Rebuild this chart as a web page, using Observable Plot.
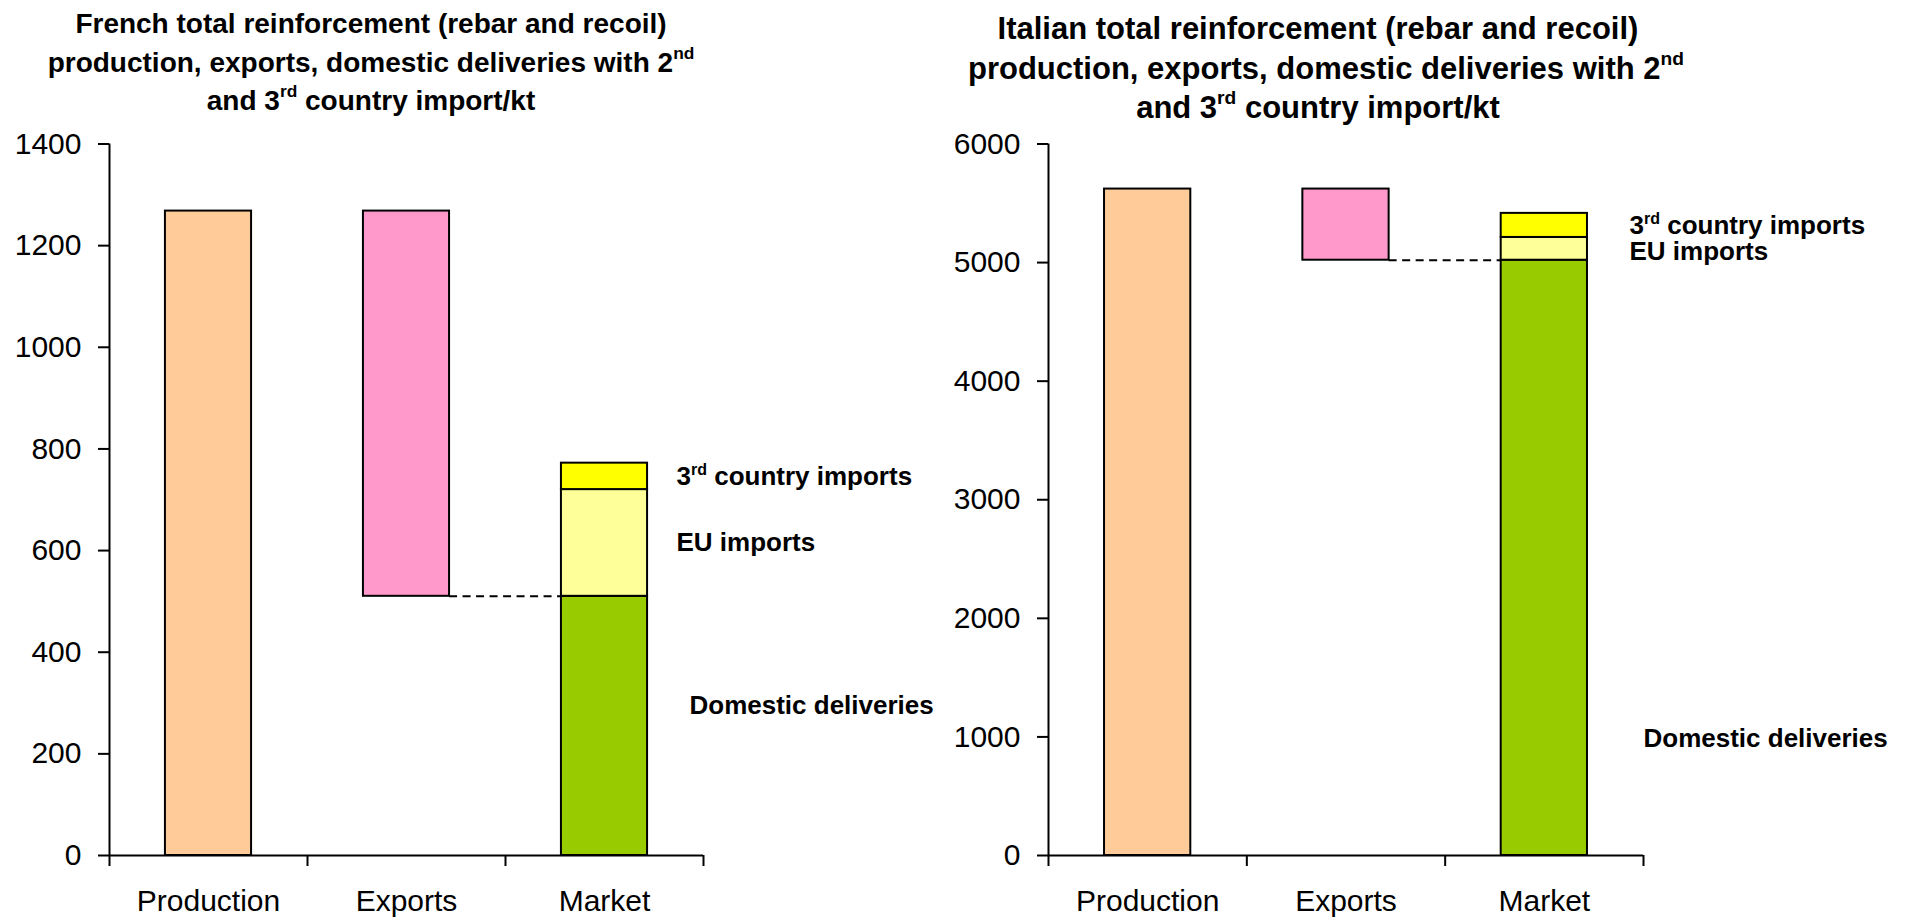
<!DOCTYPE html>
<html><head><meta charset="utf-8">
<script src="https://cdn.jsdelivr.net/npm/d3@7"></script>
<script src="https://cdn.jsdelivr.net/npm/@observablehq/plot@0.6"></script>
<style>
body{margin:0;background:#fff;width:1906px;height:918px;overflow:hidden;position:relative;font-family:"Liberation Sans",Arial,sans-serif;}
.title{position:absolute;z-index:2;text-align:center;font-weight:bold;font-size:28px;line-height:38.5px;color:#000;white-space:nowrap;}
.title sup{font-size:0.62em;line-height:0;vertical-align:0.75em;}
.chart{position:absolute;z-index:1;top:120px;width:953px;height:798px;}
</style></head><body>
<div class="title" style="left:21px;top:5px;width:700px">French total reinforcement (rebar and recoil)<br>production, exports, domestic deliveries with 2<sup>nd</sup><br>and 3<sup>rd</sup> country import/kt</div>
<div class="title" style="left:968px;top:9px;width:700px;font-size:31px;line-height:39.5px">Italian total reinforcement (rebar and recoil)<br>production, exports, domestic deliveries with 2<sup>nd</sup><br>and 3<sup>rd</sup> country import/kt</div>
<div class="chart" id="c1" style="left:0px"></div>
<div class="chart" id="c2" style="left:953px"></div>
<script>
// Categories on the x axis
const categories = ["Production", "Exports", "Market"];
// Segment values: production, exports, domestic deliveries, EU imports, 3rd country imports (kt)
const frenchValues = [1268, 758, 510, 210, 52];
const italianValues = [5620, 600, 5020, 192, 203];
const segmentColors = ["#FFCC99", "#FF99CC", "#99CC00", "#FFFF99", "#FFFF00"];
// Annotation labels and their value anchors
const labelTexts = ["3rd country imports", "EU imports", "Domestic deliveries"];
const frenchLabelY = [746, 616, 295];
const italianLabelY = [5313, 5090, 987];
// Y ticks
const frenchTicks = [0, 200, 400, 600, 800, 1000, 1200, 1400];
const italianTicks = [0, 1000, 2000, 3000, 4000, 5000, 6000];

const F = "Liberation Sans, Arial, sans-serif";
const barFrac = 0.435;

function makeChart(values, ticks, labelY, marginLeft, marginRight) {
  const [prod, exp, dom, eu, third] = values;
  const rows = [
    {cat: 0, y1: 0, y2: prod, fill: segmentColors[0]},
    {cat: 1, y1: prod - exp, y2: prod, fill: segmentColors[1]},
    {cat: 2, y1: 0, y2: dom, fill: segmentColors[2]},
    {cat: 2, y1: dom, y2: dom + eu, fill: segmentColors[3]},
    {cat: 2, y1: dom + eu, y2: dom + eu + third, fill: segmentColors[4]}
  ];
  const labels = labelTexts.map((t, i) => ({text: t, y: labelY[i]}));
  const yMax = ticks[ticks.length - 1];
  return Plot.plot({
    width: 953, height: 798,
    marginTop: 23.5, marginBottom: 63, marginLeft, marginRight,
    x: {type: "linear", domain: [0, 3], axis: null},
    y: {domain: [0, yMax], axis: null},
    color: {type: "identity"},
    style: {fontFamily: F, fontSize: "30px", color: "#000", background: "transparent", overflow: "visible"},
    marks: [
      Plot.rectY(rows, {x1: d => d.cat + (1 - barFrac) / 2, x2: d => d.cat + (1 + barFrac) / 2, y1: "y1", y2: "y2", fill: "fill", stroke: "#000", strokeWidth: 2, inset: 0}),
      Plot.ruleY([prod - exp], {x1: 1 + (1 + barFrac) / 2, x2: 2 + (1 - barFrac) / 2, stroke: "#000", strokeWidth: 2, strokeDasharray: "8,5.5"}),
      Plot.ruleX([0], {stroke: "#000", strokeWidth: 2}),
      Plot.ruleY([0], {stroke: "#000", strokeWidth: 2}),
      Plot.axisY({ticks, tickSize: 11, tickPadding: 17, tickFormat: d => String(d), fontSize: 30, stroke: "#000", strokeWidth: 2}),
      Plot.axisX({ticks: [0, 1, 2, 3], tickSize: 11, tickFormat: () => "", stroke: "#000", strokeWidth: 2}),
      Plot.text(categories, {x: (d, i) => i + 0.5, y: () => 0, text: d => d, dy: 46, fontSize: 30, fill: "#000"}),
      Plot.text(labels, {x: () => 3, y: "y", text: "text", textAnchor: "start", fontWeight: "bold", fontSize: 26, fill: "#000"})
    ]
  });
}

function fixLabels(svg, dxs) {
  // apply per-label horizontal offsets and superscripts
  const texts = Array.from(svg.querySelectorAll("text")).filter(t => labelTexts.includes(t.textContent));
  texts.forEach(t => {
    const i = labelTexts.indexOf(t.textContent);
    const x = parseFloat(t.getAttribute("x") || 0);
    t.setAttribute("x", x + dxs[i]);
    if (t.textContent.startsWith("3rd")) {
      const rest = t.textContent.slice(3);
      t.textContent = "";
      const ns = "http://www.w3.org/2000/svg";
      const a = document.createElementNS(ns, "tspan"); a.textContent = "3";
      const b = document.createElementNS(ns, "tspan"); b.textContent = "rd"; b.setAttribute("font-size", "16"); b.setAttribute("dy", "-10");
      const c = document.createElementNS(ns, "tspan"); c.textContent = rest; c.setAttribute("dy", "10");
      t.append(a, b, c);
    }
  });
}

const frDx = [-27, -27, -14];
const itDx = [-14, -14, 0];
const c1 = makeChart(frenchValues, frenchTicks, frenchLabelY, 109, 250);
const c2 = makeChart(italianValues, italianTicks, italianLabelY, 95, 263);
document.getElementById("c1").append(c1);
document.getElementById("c2").append(c2);
fixLabels(c1, frDx);
fixLabels(c2, itDx);
</script>
</body></html>
